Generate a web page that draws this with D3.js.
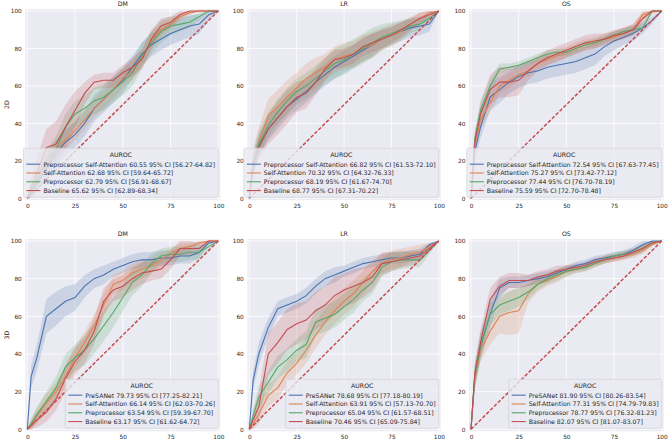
<!DOCTYPE html>
<html><head><meta charset="utf-8">
<script src="https://cdn.jsdelivr.net/npm/d3@7"></script>
<style>body{margin:0;background:#fff} text{font-family:"DejaVu Sans",sans-serif}</style>
</head><body><svg id="c" width="668" height="440"></svg>
<script>
// ---------- DATA ----------
const fpr = [0,2,5,10,15,20,25,30,35,40,45,50,55,60,65,70,75,80,85,90,95,100];
const xTicks = [0,25,50,75,100];
const yTicks = [0,20,40,60,80,100];
const rowLabels = ["2D","3D"];
const colTitles = ["DM","LR","OS"];
const names2D = ["Preprocessor Self-Attention","Self-Attention","Preprocessor","Baseline"];
const names3D = ["PreSANet","Self-Attention","Preprocessor","Baseline"];
const colors = ["#4c72b0","#dd8452","#55a868","#c44e52"];

// AUROC [value, CI low, CI high]
const auc_2D_DM = [[60.55,56.27,64.82],[62.68,59.64,65.72],[62.79,56.91,68.67],[65.62,62.89,68.34]];
const auc_2D_LR = [[66.82,61.53,72.10],[70.32,64.32,76.33],[68.19,61.67,74.70],[68.77,67.31,70.22]];
const auc_2D_OS = [[72.54,67.63,77.45],[75.27,73.42,77.12],[77.44,76.70,78.19],[75.59,72.70,78.48]];
const auc_3D_DM = [[79.73,77.25,82.21],[66.14,62.03,70.26],[63.54,59.39,67.70],[63.17,61.62,64.72]];
const auc_3D_LR = [[78.68,77.18,80.19],[63.91,57.13,70.70],[65.04,61.57,68.51],[70.46,65.09,75.84]];
const auc_3D_OS = [[81.90,80.26,83.54],[77.31,74.79,79.83],[78.77,76.32,81.23],[82.07,81.07,83.07]];

// TPR curves (one row per series, blue/orange/green/red)
const tpr_2D_DM = [
 [0,3,8,16,24,30,34,40,48,53,58,63,70,77,82,85,88,90,92,93,98,100],
 [0,4,10,18,26,31,36,42,48,53,58,64,68,75,84,90,93,97,99,100,100,100],
 [0,4,10,20,26,38,45,48,52,54,58,62,67,76,83,89,92,93,94,97,100,100],
 [0,6,14,27,29,38,47,56,62,63,63,67,70,74,85,92,94,98,100,100,100,100]];
const tpr_2D_LR = [
 [0,18,28,37,43,49,53,57,62,66,70,73,76,79,82,85,87,89,91,92,93,100],
 [0,20,30,44,49,54,59,64,67,70,74,76,77,80,82,85,87,89,93,96,99,100],
 [0,19,29,39,46,52,57,60,64,68,72,74,77,80,83,86,88,90,92,93,96,100],
 [0,17,27,37,43,49,54,56,62,69,74,75,77,81,83,85,87,90,93,96,98,100]];
const tpr_2D_OS = [
 [0,25,38,54,58,62,65,67,68,70,71,72,73,75,77,81,84,86,88,91,95,100],
 [0,28,42,51,60,63,66,68,72,74,76,78,80,82,83,85,86,88,90,98,100,100],
 [0,32,47,60,69,70,71,73,75,77,78,78,80,82,83,85,87,89,90,91,100,100],
 [0,30,45,58,62,62,63,68,72,75,77,79,81,83,84,85,87,88,90,96,100,100]];
const tpr_3D_DM = [
 [0,28,38,60,64,68,70,76,80,82,85,87,89,90,90,91,91,92,92,94,99,100],
 [0,2,7,14,20,28,38,46,55,66,77,79,83,85,87,90,93,96,97,99,100,100],
 [0,3,8,15,22,33,38,42,48,55,62,70,78,82,88,92,93,93,94,94,97,100],
 [0,2,5,9,16,27,36,42,52,68,74,76,80,83,84,85,90,96,96,96,100,100]];
const tpr_3D_LR = [
 [0,26,40,54,64,66,68,71,76,80,82,84,86,88,89,90,91,91,92,93,98,100],
 [0,3,8,18,22,30,35,42,50,57,63,68,72,78,84,88,90,91,93,94,97,100],
 [0,7,17,25,33,37,42,45,57,59,61,65,69,74,78,86,89,90,90,90,95,100],
 [0,5,12,40,46,53,56,58,63,66,71,74,76,78,81,88,89,90,91,92,96,100]];
const tpr_3D_OS = [
 [0,28,44,61,75,78,78,79,80,81,83,85,87,88,90,91,92,93,95,98,100,100],
 [0,27,42,52,60,62,63,72,77,79,81,84,85,86,88,90,91,92,93,95,98,100],
 [0,28,44,61,66,68,70,73,77,80,82,84,85,86,88,90,92,93,94,96,99,100],
 [0,30,46,69,76,79,79,79,81,82,84,85,86,87,89,90,91,92,94,96,99,100]];

// confidence band half-widths (read from the shaded areas)
const band_2D_DM = [
 [0,3,5,6,7,7,7,7,7,7,7,7,6,6,6,6,6,6,6,5,3,0],
 [0,3,4,5,5,5,5,5,5,5,5,5,5,5,5,4,3,2,1,0,0,0],
 [0,3,5,6,7,7,7,7,7,7,7,7,7,7,6,6,5,4,3,2,1,0],
 [0,4,8,10,12,12,10,6,4,4,4,4,5,5,5,4,3,2,1,0,0,0]];
const band_2D_LR = [
 [0,5,6,6,6,6,6,6,6,6,6,6,6,6,6,5,5,5,5,5,4,0],
 [0,6,8,9,9,9,8,8,8,7,7,7,7,7,7,6,6,5,4,3,2,0],
 [0,6,7,7,7,7,7,7,7,7,8,8,8,8,8,7,6,5,4,3,2,0],
 [0,4,6,8,9,9,8,8,7,6,5,5,5,5,5,5,4,4,3,3,2,0]];
const band_2D_OS = [
 [0,5,6,7,7,6,6,6,6,6,6,6,6,6,6,5,5,4,4,3,2,0],
 [0,4,5,5,4,4,3,3,3,3,3,3,3,3,3,3,3,3,3,3,2,0],
 [0,4,5,4,3,2,2,2,2,2,2,2,2,2,2,2,2,2,2,2,1,0],
 [0,5,6,8,8,8,8,5,4,4,4,4,4,4,4,3,3,3,3,3,1,0]];
const band_3D_DM = [
 [0,6,7,9,9,8,7,6,5,5,4,4,4,4,4,4,4,4,4,3,1,0],
 [0,3,4,5,5,6,6,6,6,6,5,5,5,5,4,4,3,3,2,1,0,0],
 [0,3,4,5,6,7,7,8,8,8,8,7,7,6,5,4,4,4,4,4,2,0],
 [0,2,4,5,6,7,7,7,7,7,6,6,6,6,5,5,5,4,4,3,1,0]];
const band_3D_LR = [
 [0,5,6,5,4,4,4,4,4,4,4,3,3,3,3,3,3,3,3,3,1,0],
 [0,3,5,6,6,6,6,7,7,7,7,7,7,6,6,5,5,5,4,4,2,0],
 [0,4,6,6,6,6,6,7,7,7,7,7,7,6,6,5,5,5,4,4,2,0],
 [0,4,8,11,11,11,11,10,10,10,10,9,9,8,7,6,5,4,4,3,2,0]];
const band_3D_OS = [
 [0,6,7,7,5,3,3,3,3,3,2,2,2,2,2,2,2,2,2,2,1,0],
 [0,5,6,7,9,12,12,5,4,3,3,3,2,2,2,2,2,2,2,2,1,0],
 [0,6,7,6,5,5,5,4,3,3,3,3,2,2,2,2,2,2,2,2,1,0],
 [0,6,7,6,5,4,4,3,3,3,3,2,2,2,2,2,2,2,2,2,1,0]];

// ---------- LAYOUT ----------
const colPx = [[27.3,218.3],[249.3,438.8],[471,661.7]];   // x(0), x(100)
const rowPx = [[198.3,11],[429.3,241]];                   // y(0), y(100)

const panels = [
 {r:0,c:0,names:names2D,auc:auc_2D_DM,tpr:tpr_2D_DM,band:band_2D_DM},
 {r:0,c:1,names:names2D,auc:auc_2D_LR,tpr:tpr_2D_LR,band:band_2D_LR},
 {r:0,c:2,names:names2D,auc:auc_2D_OS,tpr:tpr_2D_OS,band:band_2D_OS},
 {r:1,c:0,names:names3D,auc:auc_3D_DM,tpr:tpr_3D_DM,band:band_3D_DM},
 {r:1,c:1,names:names3D,auc:auc_3D_LR,tpr:tpr_3D_LR,band:band_3D_LR},
 {r:1,c:2,names:names3D,auc:auc_3D_OS,tpr:tpr_3D_OS,band:band_3D_OS}];

const svg = d3.select("#c");
const FS = 5.8, LFS = 6.2;

panels.forEach(p => {
  const g = svg.append("g");
  const x = d3.scaleLinear().domain([0,100]).range(colPx[p.c]);
  const y = d3.scaleLinear().domain([0,100]).range(rowPx[p.r]);
  const L = x(-1), R = x(101), T = y(101), B = y(-1);
  g.append("rect").attr("x",L).attr("y",T).attr("width",R-L).attr("height",B-T).attr("fill","#eaeaf2");
  // grid
  g.selectAll(".gx").data(xTicks).join("line").attr("x1",d=>x(d)).attr("x2",d=>x(d)).attr("y1",T).attr("y2",B)
    .attr("stroke","#fff").attr("stroke-width",0.8);
  g.selectAll(".gy").data(yTicks).join("line").attr("y1",d=>y(d)).attr("y2",d=>y(d)).attr("x1",L).attr("x2",R)
    .attr("stroke","#fff").attr("stroke-width",0.8);
  // axes
  const ax = g.append("g").attr("transform",`translate(0,${B})`)
    .call(d3.axisBottom(x).tickValues(xTicks).tickSize(0).tickPadding(4));
  const ay = g.append("g").attr("transform",`translate(${L},0)`)
    .call(d3.axisLeft(y).tickValues(yTicks).tickSize(0).tickPadding(3.6));
  [ax,ay].forEach(a=>{a.select(".domain").remove();
    a.selectAll("text").attr("font-size",FS).attr("fill","#262626").attr("font-family","DejaVu Sans");});
  // title
  g.append("text").attr("x",(L+R)/2).attr("y",T-3.4).attr("text-anchor","middle")
    .attr("font-size",6.2).attr("fill","#262626").text(colTitles[p.c]);
  if (p.c===0) {
    g.append("text").attr("transform",`translate(9,${(T+B)/2}) rotate(-90)`).attr("text-anchor","middle")
      .attr("font-size",6.2).attr("fill","#262626").text(rowLabels[p.r]);
  }
  // bands
  const clamp = v => Math.max(0, Math.min(100, v));
  p.tpr.forEach((t,i) => {
    const area = d3.area().x((d,j)=>x(fpr[j]))
      .y0((d,j)=>y(clamp(t[j]-p.band[i][j]))).y1((d,j)=>y(clamp(t[j]+p.band[i][j])));
    g.append("path").attr("d",area(t)).attr("fill",colors[i]).attr("fill-opacity",0.2);
  });
  // lines
  p.tpr.forEach((t,i) => {
    const line = d3.line().x((d,j)=>x(fpr[j])).y(d=>y(d));
    g.append("path").attr("d",line(t)).attr("fill","none").attr("stroke",colors[i]).attr("stroke-width",1.1);
  });
  // diagonal
  g.append("line").attr("x1",x(0)).attr("y1",y(0)).attr("x2",x(100)).attr("y2",y(100))
    .attr("stroke","#c44e52").attr("stroke-width",1.5).attr("stroke-dasharray","3.6,1.8");
  // legend
  const labels = p.names.map((n,i)=>`${n} ${p.auc[i][0].toFixed(2)} 95% CI [${p.auc[i][1].toFixed(2)}-${p.auc[i][2].toFixed(2)}]`);
  const lg = g.append("g");
  const box = lg.append("rect");
  const texts = labels.map(l => lg.append("text").attr("font-size",LFS).attr("fill","#262626").text(l));
  const maxW = d3.max(texts, t => t.node().getComputedTextLength());
  const boxW = 3 + 14 + 3 + maxW + 3, boxH = 49;
  const right = R - 2, bottom = B - 3, left = right - boxW, top = bottom - boxH;
  box.attr("x",left).attr("y",top).attr("width",boxW).attr("height",boxH).attr("rx",1.5)
    .attr("fill","#eaeaf2").attr("fill-opacity",0.8).attr("stroke","#cccccc").attr("stroke-width",0.6);
  lg.append("text").attr("x",left+boxW/2).attr("y",top+6.3).attr("dominant-baseline","central")
    .attr("text-anchor","middle").attr("font-size",LFS).attr("fill","#262626").text("AUROC");
  texts.forEach((t,i)=>{
    const cy = top + 16 + i*8.8;
    t.attr("x",left+20).attr("y",cy).attr("dominant-baseline","central");
    lg.append("line").attr("x1",left+3).attr("x2",left+17).attr("y1",cy).attr("y2",cy)
      .attr("stroke",colors[i]).attr("stroke-width",1.1);
  });
});
</script></body></html>
